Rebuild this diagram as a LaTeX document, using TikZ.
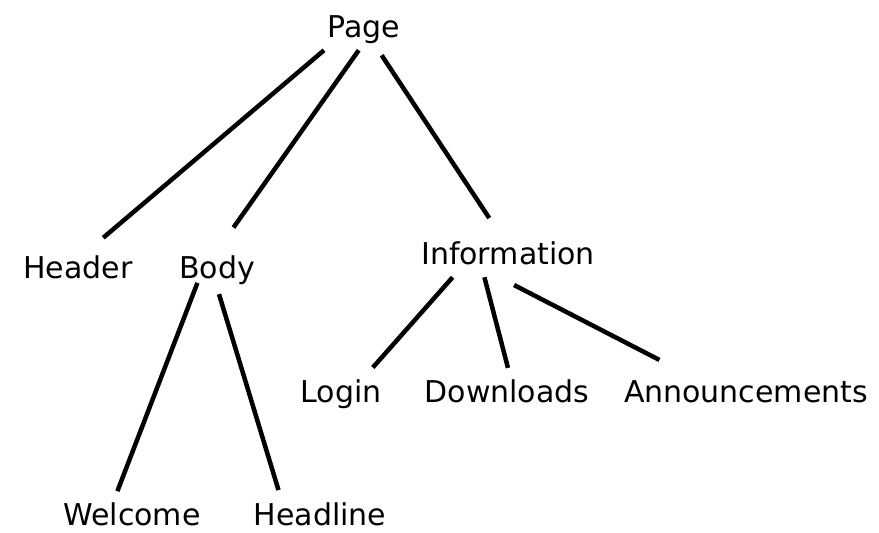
\documentclass[tikz,border=0pt]{standalone}
\usepackage{fontspec}
\setsansfont{DejaVu Sans}
\begin{document}
\begin{tikzpicture}[x=1pt, y=-1pt, line width=4.5pt, site node/.style={inner sep=4pt, text height=23pt, text depth=7pt, anchor=base}, leaf node/.style={inner sep=3pt, text depth=0pt}]
\useasboundingbox (0,0) rectangle (879,533);
\begin{scope}[every node/.style={site node, font=\sffamily\fontsize{30}{36}\selectfont}]
\node (page) at (364,37) {Page};
\node (header) at (78,278) {Header};
\node (body) at (217,278) {Body};
\node (info) at (508,264) {Information};
\node (login) at (341,402) {Login};
\node (down) at (507,402) {Downloads};
\node (ann) at (746,402) {Announcements};
\node[leaf node] (welcome) at (132,525) {Welcome};
\node[leaf node] (headline) at (320,525) {Headline};
\end{scope}
\begin{scope}
\draw[shorten >=17pt] (page.208) -- (header.60);
\draw[shorten >=26pt] (page.256) -- (body.86);
\draw[shorten <=6pt, shorten >=20pt] (page.304) -- (info.110);
\draw[shorten >=7pt] (info.201) -- (login.38);
\draw[shorten >=5pt] (info.222) -- (down.84);
\draw[shorten <=17pt, shorten >=28pt] (info.247) -- (ann.161);
\draw[shorten <=-9pt, shorten >=6pt] (body.223) -- (welcome.135);
\draw[shorten <=3pt, shorten >=7pt] (body.273) -- (headline.157);
\end{scope}
\end{tikzpicture}
\end{document}
